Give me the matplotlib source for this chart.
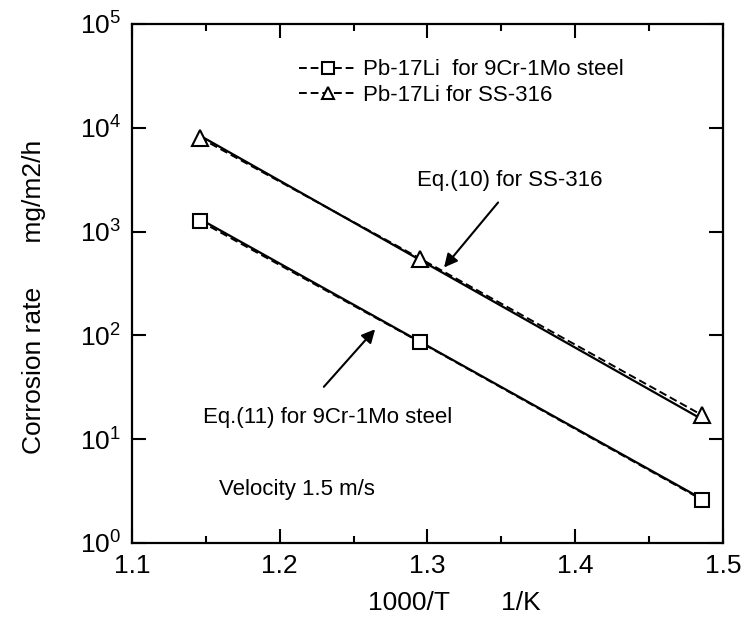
import numpy as np
import matplotlib
matplotlib.use('Agg')
import matplotlib.pyplot as plt
from matplotlib.ticker import MultipleLocator, LogLocator, NullLocator

plt.rcParams['font.family'] = ['Liberation Sans', 'DejaVu Sans']
plt.rcParams['mathtext.fontset'] = 'custom'
plt.rcParams['mathtext.rm'] = 'Liberation Sans'
plt.rcParams['mathtext.it'] = 'Liberation Sans'

# measured data (1000/T, corrosion rate mg/m2/h)
x_meas = [1.146, 1.295, 1.486]
y_9cr = [1260, 86, 2.6]
y_ss316 = [8000, 550, 17]

# correlation lines, Eq.(10) and Eq.(11)
x_eq = [1.146, 1.486]
y_eq10 = [8400, 15.5]
y_eq11 = [1320, 2.65]

fig = plt.figure(figsize=(7.48, 6.28), dpi=100)
ax = fig.add_axes([0.1765, 0.1354, 0.79, 0.8264])

ax.plot(x_eq, y_eq10, color='black', lw=1.6)
ax.plot(x_eq, y_eq11, color='black', lw=1.6)
ax.plot(x_meas, y_9cr, ls=(0, (4, 2)), color='black', lw=1.4, marker='s',
        ms=10, mfc='white', mec='black', mew=1.5,
        label='Pb-17Li  for 9Cr-1Mo steel')
ax.plot(x_meas, y_ss316, ls=(0, (4, 2)), color='black', lw=1.4, marker='^',
        ms=11, mfc='white', mec='black', mew=1.5,
        label='Pb-17Li for SS-316')

ax.set_yscale('log')
ax.set_xlim(1.1, 1.5)
ax.set_ylim(1, 1e5)
ax.xaxis.set_major_locator(MultipleLocator(0.1))
ax.xaxis.set_minor_locator(MultipleLocator(0.05))
ax.yaxis.set_major_locator(LogLocator(base=10, numticks=10))
ax.yaxis.set_minor_locator(NullLocator())
ax.xaxis.set_major_formatter(matplotlib.ticker.FormatStrFormatter('%.1f'))

ax.tick_params(which='both', direction='in', top=True, right=True,
               labelsize=19, width=1.5)
ax.tick_params(which='major', length=10, pad=8)
ax.tick_params(which='minor', length=5)
for s in ax.spines.values():
    s.set_linewidth(1.6)

ax.legend(loc='upper left', bbox_to_anchor=(0.282, 0.932), frameon=False,
          fontsize=16, handlelength=2.6, handletextpad=0.3, labelspacing=0.2,
          borderpad=0.0, borderaxespad=0.0, markerscale=0.8)

ax.annotate('', xy=(1.31, 430), xytext=(1.349, 2000),
            arrowprops=dict(arrowstyle='-|>', color='black', lw=1.5,
                            mutation_scale=20))
ax.text(1.356, 3100, 'Eq.(10) for SS-316', fontsize=16, ha='center',
        va='center')
ax.annotate('', xy=(1.2658, 120), xytext=(1.2286, 30.5),
            arrowprops=dict(arrowstyle='-|>', color='black', lw=1.5,
                            mutation_scale=20))
ax.text(1.2325, 16.2, 'Eq.(11) for 9Cr-1Mo steel', fontsize=16, ha='center',
        va='center')
ax.text(1.2115, 3.3, 'Velocity 1.5 m/s', fontsize=16, ha='center',
        va='center')

fig.text(0.045, 0.527, 'Corrosion rate      mg/m2/h', rotation=90,
         fontsize=19, ha='center', va='center')
fig.text(0.607, 0.04, '1000/T       1/K', fontsize=19, ha='center',
         va='center')

fig.savefig('out.png', dpi=100)
